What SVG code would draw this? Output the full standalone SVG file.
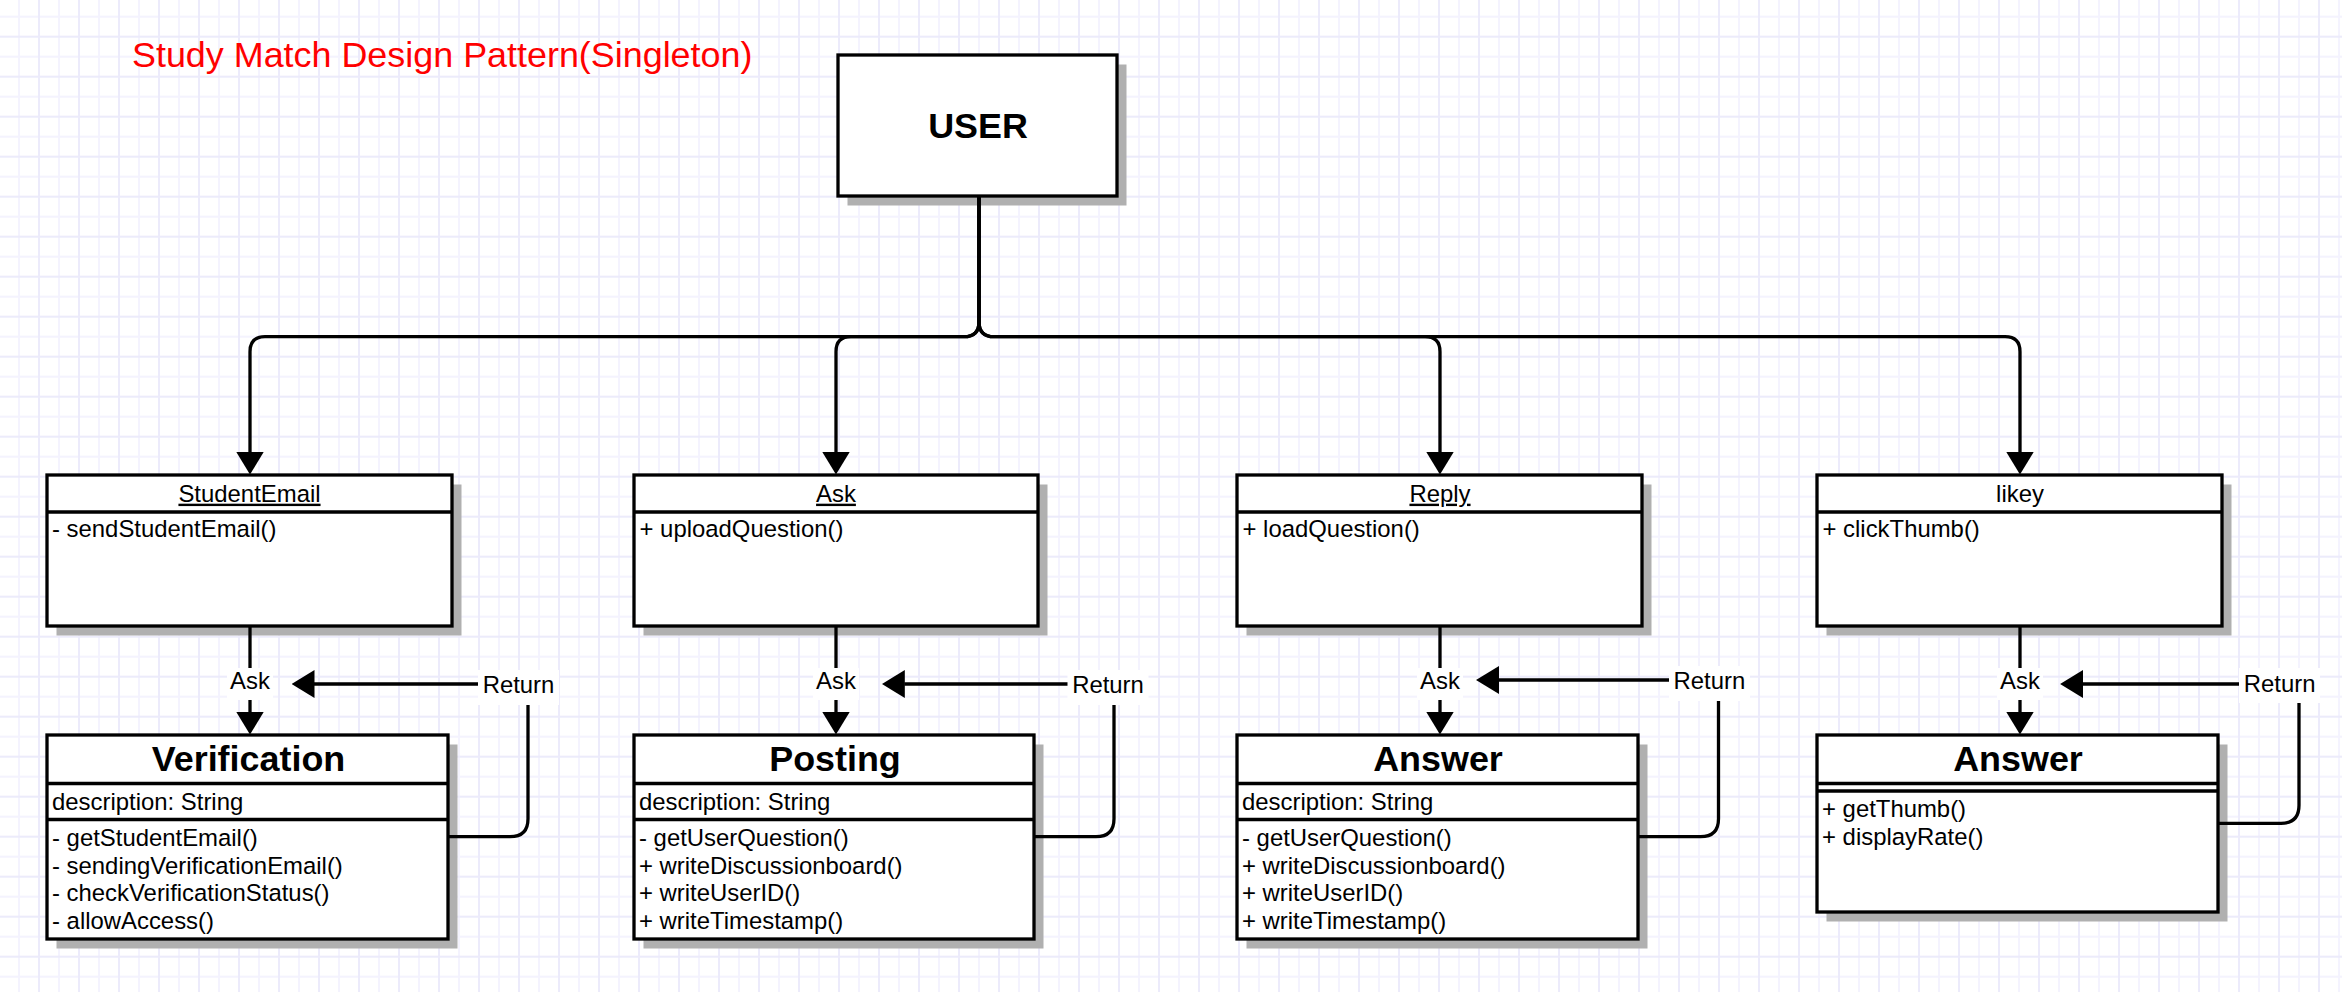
<svg xmlns="http://www.w3.org/2000/svg" width="2342" height="992" viewBox="0 0 2342 992">
<defs>
<pattern id="grid" patternUnits="userSpaceOnUse" x="0" y="0" width="40" height="40">
<rect x="0" y="0" width="40" height="40" fill="#ffffff"/>
<rect x="18" y="0" width="2" height="40" fill="#f4f3fe"/>
<rect x="0" y="15.7" width="40" height="2" fill="#f4f3fe"/>
<rect x="38" y="0" width="2" height="40" fill="#ecebfb"/>
<rect x="0" y="35.7" width="40" height="2" fill="#ecebfb"/>
</pattern>
<marker id="arrow" markerUnits="userSpaceOnUse" viewBox="0 0 23 28" refX="0.5" refY="14" markerWidth="23" markerHeight="28" orient="auto">
<path d="M0,0 L23,14 L0,28 Z" fill="#000000"/>
</marker>
</defs>
<style>
text { font-family: "Liberation Sans", Arial, Helvetica, sans-serif; fill: #000000; }
.box { fill: #ffffff; stroke: #000000; stroke-width: 3.3; }
.shadow { fill: #b0b0b0; stroke: none; }
.div { stroke: #000000; stroke-width: 3.3; fill: none; }
.edge { fill: none; stroke: #000000; stroke-width: 3.3; marker-end: url(#arrow); }
.ret { fill: none; stroke: #000000; stroke-width: 3.3; marker-end: url(#arrow); }
.lbl { fill: #ffffff; stroke: none; }
.name { font-size: 23.9px; text-anchor: middle; }
.uname { font-size: 23.9px; text-anchor: middle; text-decoration: underline; }
.big { font-size: 35.9px; font-weight: bold; text-anchor: middle; }
.item { font-size: 23.9px; }
.etxt { font-size: 23.9px; text-anchor: middle; }
</style>
<rect x="0" y="0" width="2342" height="992" fill="url(#grid)"/>

<text x="132" y="66.7" style="font-size:35.9px;fill:#ff0000">Study Match Design Pattern(Singleton)</text>

<g id="user">
<rect class="shadow" x="847.5" y="64.5" width="279" height="141"/>
<rect class="box" x="838" y="55" width="279" height="141"/>
<text x="978" y="138" class="big">USER</text>
</g>

<g id="studentemail">
<rect class="shadow" x="56.5" y="484.5" width="405" height="151"/>
<rect class="box" x="47" y="475" width="405" height="151"/>
<line class="div" x1="47" y1="512" x2="452" y2="512"/>
<text x="249.5" y="501.7" class="uname">StudentEmail</text>
<text x="52" y="537.3" class="item">- sendStudentEmail()</text>
</g>

<g id="ask">
<rect class="shadow" x="643.5" y="484.5" width="404" height="151"/>
<rect class="box" x="634" y="475" width="404" height="151"/>
<line class="div" x1="634" y1="512" x2="1038" y2="512"/>
<text x="836" y="501.7" class="uname">Ask</text>
<text x="639.5" y="537.3" class="item">+ uploadQuestion()</text>
</g>

<g id="reply">
<rect class="shadow" x="1246.5" y="484.5" width="405" height="151"/>
<rect class="box" x="1237" y="475" width="405" height="151"/>
<line class="div" x1="1237" y1="512" x2="1642" y2="512"/>
<text x="1440" y="501.7" class="uname">Reply</text>
<text x="1242.5" y="537.3" class="item">+ loadQuestion()</text>
</g>

<g id="likey">
<rect class="shadow" x="1826.5" y="484.5" width="405" height="151"/>
<rect class="box" x="1817" y="475" width="405" height="151"/>
<line class="div" x1="1817" y1="512" x2="2222" y2="512"/>
<text x="2020" y="501.7" class="name">likey</text>
<text x="1822.5" y="537.3" class="item">+ clickThumb()</text>
</g>

<g id="verification">
<rect class="shadow" x="56.5" y="744.5" width="401" height="204"/>
<rect class="box" x="47" y="735" width="401" height="204"/>
<line class="div" x1="47" y1="783.5" x2="448" y2="783.5"/>
<line class="div" x1="47" y1="819.5" x2="448" y2="819.5"/>
<text x="248.5" y="771" class="big">Verification</text>
<text x="52" y="810" class="item">description: String</text>
<text x="52" y="845.7" class="item">- getStudentEmail()</text>
<text x="52" y="873.5" class="item">- sendingVerificationEmail()</text>
<text x="52" y="901.3" class="item">- checkVerificationStatus()</text>
<text x="52" y="929" class="item">- allowAccess()</text>
</g>

<g id="posting">
<rect class="shadow" x="643.5" y="744.5" width="400" height="204"/>
<rect class="box" x="634" y="735" width="400" height="204"/>
<line class="div" x1="634" y1="783.5" x2="1034" y2="783.5"/>
<line class="div" x1="634" y1="819.5" x2="1034" y2="819.5"/>
<text x="835" y="771" class="big">Posting</text>
<text x="639" y="810" class="item">description: String</text>
<text x="639" y="845.7" class="item">- getUserQuestion()</text>
<text x="639" y="873.5" class="item">+ writeDiscussionboard()</text>
<text x="639" y="901.3" class="item">+ writeUserID()</text>
<text x="639" y="929" class="item">+ writeTimestamp()</text>
</g>

<g id="answer">
<rect class="shadow" x="1246.5" y="744.5" width="401" height="204"/>
<rect class="box" x="1237" y="735" width="401" height="204"/>
<line class="div" x1="1237" y1="783.5" x2="1638" y2="783.5"/>
<line class="div" x1="1237" y1="819.5" x2="1638" y2="819.5"/>
<text x="1438" y="771" class="big">Answer</text>
<text x="1242" y="810" class="item">description: String</text>
<text x="1242" y="845.7" class="item">- getUserQuestion()</text>
<text x="1242" y="873.5" class="item">+ writeDiscussionboard()</text>
<text x="1242" y="901.3" class="item">+ writeUserID()</text>
<text x="1242" y="929" class="item">+ writeTimestamp()</text>
</g>

<g id="answer2">
<rect class="shadow" x="1826.5" y="744.5" width="401" height="177"/>
<rect class="box" x="1817" y="735" width="401" height="177"/>
<line class="div" x1="1817" y1="783.5" x2="2218" y2="783.5"/>
<line class="div" x1="1817" y1="791" x2="2218" y2="791"/>
<text x="2018" y="771" class="big">Answer</text>
<text x="1822" y="817.3" class="item">+ getThumb()</text>
<text x="1822" y="845.3" class="item">+ displayRate()</text>
</g>

<g id="connectors">
<path class="edge" d="M979,196 V321.7 Q979,336.7 964,336.7 H265 Q250,336.7 250,351.7 V452"/>
<path class="edge" d="M979,196 V321.7 Q979,336.7 964,336.7 H851 Q836,336.7 836,351.7 V452"/>
<path class="edge" d="M979,196 V321.7 Q979,336.7 994,336.7 H1425 Q1440,336.7 1440,351.7 V452"/>
<path class="edge" d="M979,196 V321.7 Q979,336.7 994,336.7 H2005 Q2020,336.7 2020,351.7 V452"/>

<path class="edge" d="M250,626 V712"/>
<path class="edge" d="M836,626 V712"/>
<path class="edge" d="M1440,626 V712"/>
<path class="edge" d="M2020,626 V712"/>

<path class="ret" d="M448,836.7 H510 Q528,836.7 528,818.7 V702 Q528,684 510,684 H314"/>
<path class="ret" d="M1034,836.7 H1096 Q1114,836.7 1114,818.7 V702 Q1114,684 1096,684 H904.3"/>
<path class="ret" d="M1638,836.7 H1700.5 Q1718.5,836.7 1718.5,818.7 V698 Q1718.5,680 1700.5,680 H1498.5"/>
<path class="ret" d="M2218,823.3 H2281 Q2299,823.3 2299,805.3 V702 Q2299,684 2281,684 H2082.6"/>

<rect class="lbl" x="227" y="668" width="46" height="32"/>
<text x="250" y="689.3" class="etxt">Ask</text>
<rect class="lbl" x="813" y="668" width="46" height="32"/>
<text x="836" y="689.3" class="etxt">Ask</text>
<rect class="lbl" x="1417" y="668" width="46" height="32"/>
<text x="1440" y="689.3" class="etxt">Ask</text>
<rect class="lbl" x="1997" y="668" width="46" height="32"/>
<text x="2020" y="689.3" class="etxt">Ask</text>

<rect class="lbl" x="478" y="670" width="81" height="35"/>
<text x="518.5" y="693.3" class="etxt">Return</text>
<rect class="lbl" x="1067.5" y="670" width="81" height="35"/>
<text x="1108" y="693.3" class="etxt">Return</text>
<rect class="lbl" x="1669" y="666" width="81" height="35"/>
<text x="1709.4" y="689.3" class="etxt">Return</text>
<rect class="lbl" x="2239" y="668" width="81" height="35"/>
<text x="2279.7" y="691.7" class="etxt">Return</text>
</g>
</svg>
